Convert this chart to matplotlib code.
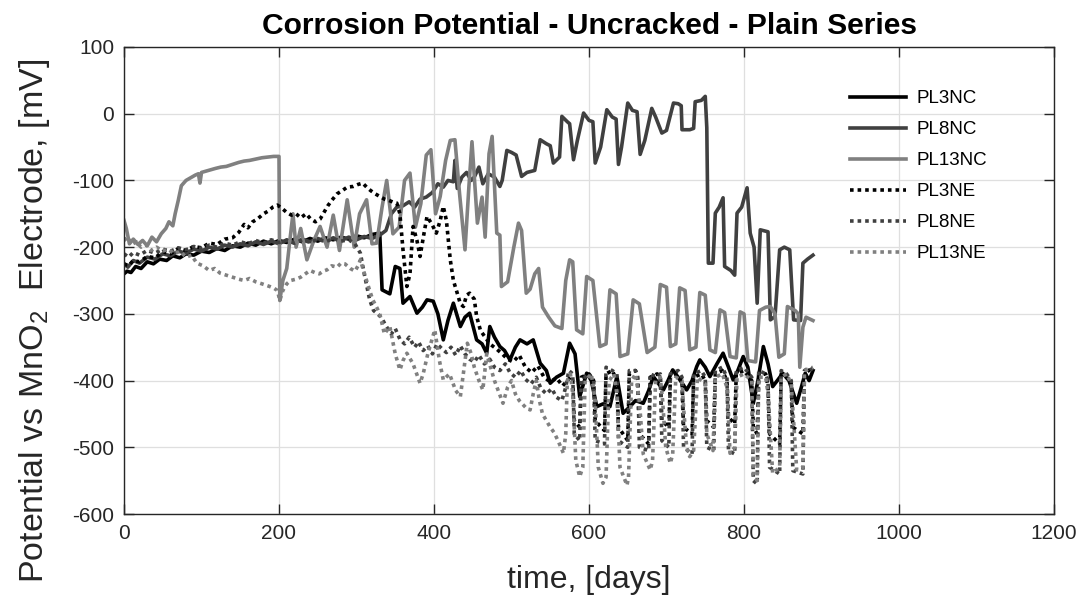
import matplotlib
matplotlib.use("Agg")
import matplotlib.pyplot as plt

plt.rcParams['font.family'] = ['Liberation Sans', 'DejaVu Sans']
plt.rcParams['mathtext.default'] = 'regular'
plt.rcParams['axes.unicode_minus'] = False

# ---------------- data (day, mV) ----------------
PL3NC = [(0,-240),(4,-236),(9,-238),(15,-229),(22,-232),(30,-222),(38,-225),(46,-218),(55,-220),(63,-213),(72,-216),(80,-210),(90,-212),(100,-206),(110,-208),(120,-202),(130,-205),(140,-198),(150,-200),(160,-194),(170,-197),(180,-191),(190,-195),(200,-190),(210,-193),(220,-188),(230,-192),(240,-187),(250,-191),(260,-186),(270,-189),(280,-185),(290,-188),(300,-183),(310,-186),(320,-181),(330,-179),(333,-264),(343,-270),(350,-229),(356,-232),(360,-284),(369,-274),(378,-299),(385,-290),(391,-279),(399,-281),(405,-300),(412,-339),(418,-310),(425,-284),(434,-319),(440,-305),(446,-299),(455,-339),(462,-345),(468,-359),(472,-319),(478,-335),(485,-349),(491,-355),(498,-369),(505,-350),(511,-339),(520,-345),(528,-339),(537,-374),(545,-385),(550,-404),(558,-395),(567,-389),(575,-344),(582,-360),(588,-424),(597,-389),(603,-400),(610,-439),(618,-435),(627,-439),(636,-394),(644,-449),(652,-440),(660,-430),(670,-434),(677,-415),(683,-394),(690,-405),(696,-414),(702,-400),(708,-384),(715,-395),(726,-414),(733,-400),(739,-379),(743,-369),(750,-380),(756,-394),(765,-375),(773,-359),(780,-380),(786,-399),(792,-385),(799,-364),(805,-380),(812,-434),(818,-400),(825,-349),(831,-375),(837,-409),(843,-400),(850,-389),(858,-400),(868,-434),(874,-410),(879,-389),(884,-400),(889,-385)]

PL8NC = [(0,-225),(5,-230),(12,-220),(20,-224),(30,-215),(40,-218),(50,-210),(60,-213),(70,-206),(80,-209),(90,-203),(100,-206),(110,-200),(120,-203),(130,-197),(140,-200),(150,-195),(160,-198),(170,-192),(180,-196),(190,-191),(200,-195),(210,-189),(220,-194),(230,-188),(240,-192),(250,-187),(260,-191),(270,-186),(280,-190),(290,-185),(300,-189),(310,-184),(320,-187),(330,-182),(338,-175),(345,-150),(352,-140),(360,-138),(368,-132),(375,-140),(382,-128),(390,-125),(398,-118),(405,-105),(412,-110),(418,-100),(425,-102),(427,-70),(430,-112),(436,-95),(442,-88),(448,-100),(452,-95),(458,-80),(463,-105),(470,-90),(478,-95),(485,-109),(488,-100),(494,-55),(500,-58),(506,-62),(513,-94),(520,-88),(530,-85),(537,-39),(545,-45),(550,-48),(554,-74),(562,-65),(565,-4),(572,-12),(575,-15),(580,-69),(585,-40),(593,1),(600,-10),(605,-12),(608,-74),(615,-50),(623,6),(630,-5),(635,-8),(638,-76),(642,-50),(650,16),(656,5),(662,3),(666,-61),(672,-40),(681,8),(686,-5),(694,-29),(700,-25),(709,16),(715,15),(719,12),(720,-24),(730,-24),(735,-22),(737,18),(745,20),(750,26),(752,-21),(754,-224),(760,-224),(763,-149),(768,-140),(773,-126),(775,-229),(783,-235),(788,-242),(791,-149),(797,-140),(804,-111),(808,-179),(813,-200),(817,-284),(821,-174),(831,-177),(834,-309),(840,-304),(846,-204),(852,-200),(859,-204),(864,-309),(873,-310),(876,-224),(882,-218),(889,-212)]

PL13NC = [(0,-160),(3,-172),(7,-195),(12,-188),(18,-196),(24,-190),(30,-198),(36,-185),(42,-192),(48,-180),(54,-172),(58,-162),(63,-168),(66,-150),(70,-130),(74,-108),(80,-100),(86,-96),(92,-92),(96,-90),(98,-104),(100,-88),(106,-86),(112,-84),(118,-82),(125,-80),(132,-79),(140,-76),(148,-73),(155,-71),(162,-70),(170,-68),(178,-66),(186,-65),(193,-64),(200,-64),(201,-280),(205,-250),(210,-232),(214,-190),(218,-150),(222,-200),(228,-172),(236,-219),(245,-190),(253,-169),(262,-200),(270,-152),(278,-205),(288,-129),(297,-200),(304,-150),(313,-129),(320,-195),(326,-194),(333,-140),(339,-100),(347,-180),(355,-170),(362,-100),(369,-89),(376,-170),(383,-135),(390,-62),(396,-54),(402,-150),(408,-124),(415,-70),(421,-40),(427,-39),(433,-120),(440,-204),(445,-110),(449,-42),(456,-164),(462,-125),(466,-185),(471,-60),(475,-34),(481,-179),(485,-182),(487,-259),(495,-252),(503,-200),(509,-164),(513,-175),(519,-269),(524,-263),(530,-240),(535,-232),(540,-290),(548,-305),(556,-318),(565,-322),(570,-250),(575,-219),(579,-222),(584,-324),(592,-330),(597,-244),(605,-250),(614,-349),(622,-345),(627,-264),(635,-270),(640,-364),(650,-360),(657,-279),(665,-285),(675,-358),(685,-350),(692,-256),(700,-260),(705,-349),(712,-345),(717,-261),(724,-265),(730,-354),(738,-350),(743,-268),(750,-272),(756,-354),(763,-358),(769,-294),(775,-298),(782,-364),(790,-366),(795,-297),(800,-300),(805,-370),(815,-372),(820,-295),(828,-290),(834,-289),(840,-300),(845,-365),(852,-360),(856,-289),(866,-295),(870,-300),(872,-380),(876,-320),(880,-305),(889,-310)]

PL3NE = [(0,-225),(6,-228),(12,-220),(20,-222),(30,-214),(40,-216),(50,-207),(60,-210),(70,-202),(80,-205),(90,-199),(100,-201),(110,-194),(120,-196),(130,-188),(140,-186),(148,-178),(155,-166),(160,-171),(166,-162),(172,-158),(180,-150),(186,-146),(192,-140),(198,-137),(204,-142),(210,-148),(216,-152),(222,-150),(228,-156),(235,-150),(241,-158),(247,-162),(253,-158),(258,-148),(263,-138),(268,-130),(275,-120),(282,-115),(288,-110),(296,-109),(302,-106),(308,-104),(313,-110),(318,-115),(324,-120),(330,-124),(336,-128),(342,-130),(348,-133),(352,-134),(356,-150),(360,-204),(365,-259),(369,-240),(373,-169),(378,-190),(382,-214),(387,-180),(391,-154),(397,-165),(403,-179),(408,-160),(412,-139),(416,-160),(421,-219),(425,-250),(430,-269),(434,-285),(438,-289),(442,-272),(446,-269),(452,-278),(455,-304),(460,-325),(466,-335),(472,-345),(480,-352),(488,-360),(495,-368),(502,-372),(510,-362),(518,-380),(526,-388),(534,-378),(542,-395),(550,-402),(558,-396),(566,-408),(572,-400),(576,-395),(579,-400),(581,-460),(588,-470),(590,-395),(600,-390),(606,-400),(608,-460),(620,-475),(622,-390),(630,-385),(636,-400),(638,-470),(650,-490),(652,-390),(660,-385),(663,-400),(665,-480),(677,-495),(679,-395),(688,-390),(692,-395),(694,-460),(703,-470),(705,-395),(715,-390),(720,-400),(722,-470),(733,-480),(735,-395),(745,-390),(750,-400),(752,-460),(761,-470),(763,-390),(772,-385),(778,-400),(780,-455),(788,-465),(790,-390),(800,-385),(810,-400),(812,-470),(817,-480),(819,-390),(828,-390),(831,-410),(833,-480),(846,-495),(848,-390),(855,-395),(861,-405),(863,-470),(876,-480),(878,-390),(889,-380)]

PL8NE = [(0,-210),(6,-215),(12,-208),(20,-212),(30,-205),(40,-209),(50,-203),(60,-206),(70,-201),(80,-204),(90,-199),(100,-202),(110,-197),(120,-200),(130,-194),(140,-197),(150,-192),(160,-195),(170,-190),(180,-194),(190,-189),(200,-193),(210,-190),(220,-194),(230,-189),(240,-193),(250,-188),(260,-192),(270,-187),(280,-191),(290,-189),(298,-195),(305,-209),(310,-240),(317,-279),(322,-295),(326,-299),(332,-305),(338,-318),(345,-330),(350,-322),(356,-338),(362,-345),(368,-335),(375,-350),(380,-342),(386,-355),(392,-348),(398,-360),(404,-345),(410,-352),(416,-358),(422,-350),(428,-362),(434,-348),(440,-360),(446,-368),(452,-372),(458,-362),(465,-375),(472,-368),(478,-380),(485,-385),(492,-375),(498,-388),(505,-395),(512,-385),(518,-398),(525,-405),(532,-395),(538,-412),(545,-420),(552,-412),(558,-425),(565,-430),(570,-410),(574,-385),(579,-390),(581,-480),(588,-490),(590,-400),(600,-390),(606,-400),(608,-490),(620,-495),(622,-380),(630,-385),(636,-390),(638,-490),(650,-500),(652,-385),(660,-385),(663,-395),(665,-500),(677,-505),(679,-390),(688,-395),(692,-390),(694,-490),(703,-500),(705,-390),(715,-385),(720,-395),(722,-500),(733,-510),(735,-390),(745,-385),(750,-395),(752,-500),(761,-505),(763,-385),(772,-380),(778,-395),(780,-505),(788,-510),(790,-385),(800,-380),(810,-395),(812,-550),(817,-555),(819,-385),(828,-390),(831,-400),(833,-530),(846,-540),(848,-385),(855,-390),(861,-400),(863,-535),(876,-540),(878,-385),(885,-380),(889,-385)]

PL13NE = [(0,-190),(5,-185),(10,-196),(16,-192),(22,-200),(28,-196),(35,-205),(42,-200),(50,-206),(57,-203),(65,-210),(72,-206),(80,-215),(87,-212),(94,-224),(102,-228),(110,-235),(117,-232),(124,-239),(132,-242),(140,-245),(148,-248),(155,-250),(162,-247),(170,-252),(178,-255),(188,-259),(194,-262),(198,-265),(201,-280),(205,-265),(210,-255),(215,-250),(222,-248),(228,-245),(234,-240),(240,-235),(246,-238),(252,-240),(257,-236),(262,-234),(268,-228),(275,-230),(280,-224),(285,-225),(292,-232),(298,-236),(302,-228),(305,-219),(309,-235),(313,-250),(317,-265),(321,-279),(326,-290),(330,-300),(336,-330),(343,-319),(350,-360),(356,-384),(360,-370),(365,-359),(373,-375),(382,-404),(386,-390),(392,-360),(401,-324),(407,-370),(412,-399),(420,-390),(428,-415),(434,-424),(439,-380),(443,-344),(448,-360),(452,-380),(458,-400),(463,-414),(468,-360),(473,-380),(478,-400),(489,-434),(495,-410),(500,-400),(505,-420),(510,-430),(518,-440),(524,-444),(528,-420),(532,-400),(536,-430),(540,-450),(545,-460),(550,-470),(555,-478),(560,-490),(567,-509),(570,-480),(572,-400),(576,-390),(579,-420),(583,-520),(588,-544),(592,-530),(595,-400),(603,-390),(608,-430),(612,-530),(618,-554),(622,-545),(626,-400),(632,-390),(636,-420),(640,-530),(649,-557),(651,-545),(655,-400),(660,-390),(665,-430),(670,-510),(679,-534),(682,-520),(686,-400),(692,-395),(695,-430),(699,-500),(705,-524),(708,-510),(712,-395),(720,-400),(722,-440),(726,-500),(730,-514),(735,-505),(740,-395),(750,-405),(752,-480),(760,-505),(763,-395),(772,-390),(778,-410),(782,-509),(788,-500),(791,-395),(800,-390),(810,-400),(812,-540),(817,-550),(819,-395),(828,-395),(831,-420),(837,-539),(846,-530),(848,-395),(855,-390),(861,-405),(868,-534),(876,-530),(878,-385),(889,-380)]

series_names = ['PL3NC', 'PL8NC', 'PL13NC', 'PL3NE', 'PL8NE', 'PL13NE']
series_data = [PL3NC, PL8NC, PL13NC, PL3NE, PL8NE, PL13NE]
series_colors = ['#000000', '#404040', '#808080', '#000000', '#404040', '#808080']
series_dotted = [False, False, False, True, True, True]

x_ticks = [0, 200, 400, 600, 800, 1000, 1200]
y_ticks = [-600, -500, -400, -300, -200, -100, 0, 100]

# ---------------- figure ----------------
fig = plt.figure(figsize=(10.86, 6.01), dpi=100)
ax = fig.add_axes([124/1086, 1-514/601, 930/1086, 467/601])

for name, data, col, dot in zip(series_names, series_data, series_colors, series_dotted):
    xs = [p[0] for p in data]
    ys = [p[1] for p in data]
    if dot:
        ax.plot(xs, ys, color=col, lw=2.6, linestyle=(0, (1, 1.1)),
                dash_capstyle='butt', label=name)
    else:
        ax.plot(xs, ys, color=col, lw=2.6, label=name)

ax.set_xlim(0, 1200)
ax.set_ylim(-600, 100)
ax.set_xticks(x_ticks)
ax.set_yticks(y_ticks)
ax.grid(True, color='#dfdfdf', lw=0.9)
ax.set_axisbelow(True)
ax.tick_params(direction='in', top=True, right=True, length=7, width=1,
               labelsize=15, colors='#262626', pad=7)
for s in ax.spines.values():
    s.set_color('#262626')
    s.set_linewidth(1.0)

ax.set_title('Corrosion Potential - Uncracked - Plain Series', fontsize=21.6,
             fontweight='bold', pad=9)
ax.set_xlabel('time, [days]', fontsize=23, color='#262626', labelpad=16)
ax.set_ylabel('Potential vs MnO$_2$  Electrode, [mV]', fontsize=24.5,
              color='#262626')
ax.yaxis.set_label_coords((52 - 124) / 930, (514 - 321) / 467)

leg = ax.legend(loc='upper left', bbox_to_anchor=(850/1086, 1-90/601),
                bbox_transform=fig.transFigure, frameon=False, fontsize=13.5,
                handlelength=3.0, handletextpad=0.55, labelspacing=0.74,
                borderpad=0, borderaxespad=0)

fig.savefig('out.png', dpi=100)
